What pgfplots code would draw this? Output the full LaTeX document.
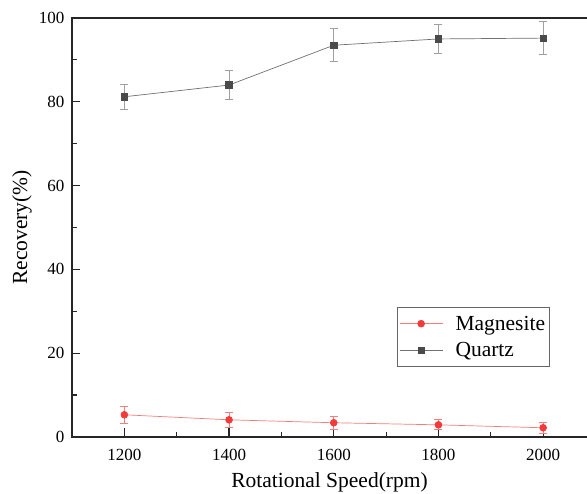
\documentclass[border=0pt]{standalone}
\usepackage{fontspec}
\setmainfont{Liberation Serif}
\usepackage{pgfplots}
\pgfplotsset{compat=1.18}
\usepackage{pgfplotstable}
\definecolor{qmark}{HTML}{4A4A4A}
\definecolor{qline}{HTML}{707070}
\definecolor{qerr}{HTML}{A0A0A0}
\definecolor{mmark}{HTML}{F23A3A}
\definecolor{mline}{HTML}{F47C7C}
\definecolor{merr}{HTML}{F57F7F}
\pgfplotstableread{
x y e
1200 81.2 3.0
1400 84.0 3.4
1600 93.5 3.9
1800 95.0 3.5
2000 95.2 4.0
}\quartz
\pgfplotstableread{
x y e
1200 5.3 2.0
1400 4.1 1.8
1600 3.4 1.6
1800 2.9 1.2
2000 2.2 1.4
}\magn
\begin{document}
\begin{tikzpicture}
\begin{axis}[name=ax, scale only axis, width=523.5pt, height=419pt,
  xmin=1100, xmax=2100, ymin=0, ymax=100,
  axis line style={line width=1.2pt, black!85},
  xtick pos=bottom, ytick pos=left,
  xtick={1200,1400,...,2000}, ytick={0,20,...,100},
  minor tick num=1, tick align=inside,
  major tick length=8.5pt, minor tick length=5pt,
  every tick/.style={line width=1.2pt, black!85},
  /pgf/number format/assume math mode=true,
  /pgf/number format/1000 sep={},
  tick label style={font=\fontsize{17}{17}\selectfont},
  xticklabel style={yshift=-9pt},
  yticklabel style={xshift=-4pt},
  xlabel={Rotational Speed(rpm)}, ylabel={Recovery(\%)},
  every axis x label/.style={at={(axis description cs:0,0)}, xshift=257.5pt, yshift=-51pt, anchor=base, font=\fontsize{21.5}{21.5}\selectfont},
  every axis y label/.style={at={(axis description cs:0,0.5)}, xshift=-50pt, rotate=90, anchor=center, font=\fontsize{21.5}{21.5}\selectfont},
  legend style={at={(axis description cs:0,0)}, xshift=325pt, yshift=130pt, anchor=north west, draw=black!60, line width=0.6pt,
    font=\fontsize{21.5}{21.5}\selectfont, inner xsep=2pt, inner ysep=6pt, row sep=6pt, column sep=10pt,
    nodes={inner sep=2.5pt}, cells={anchor=west}},
  legend image code/.code={\draw[mark repeat=2,mark phase=2] plot coordinates {(0pt,0pt)(21.5pt,0pt)(43pt,0pt)};},
  clip=false,
]
\addplot[color=mline, line width=0.7pt, mark=*, mark size=3.4pt,
  mark options={draw=mmark, fill=mmark},
  error bars/.cd, y dir=both, y explicit,
  error bar style={line width=0.8pt, color=merr},
  error mark options={rotate=90, mark size=4pt, line width=0.8pt, color=merr}]
  table[x=x, y=y, y error=e]{\magn};
\addlegendentry{Magnesite}
\addplot[color=qline, line width=0.7pt, mark=square*, mark size=3.2pt,
  mark options={draw=qmark, fill=qmark},
  error bars/.cd, y dir=both, y explicit,
  error bar style={line width=0.8pt, color=qerr},
  error mark options={rotate=90, mark size=4pt, line width=0.8pt, color=qerr}]
  table[x=x, y=y, y error=e]{\quartz};
\addlegendentry{Quartz}
\end{axis}
\pgfresetboundingbox
\path ([xshift=-72pt,yshift=-57pt]ax.south west) rectangle ([xshift=515pt,yshift=18pt]ax.north west);
\end{tikzpicture}
\end{document}
